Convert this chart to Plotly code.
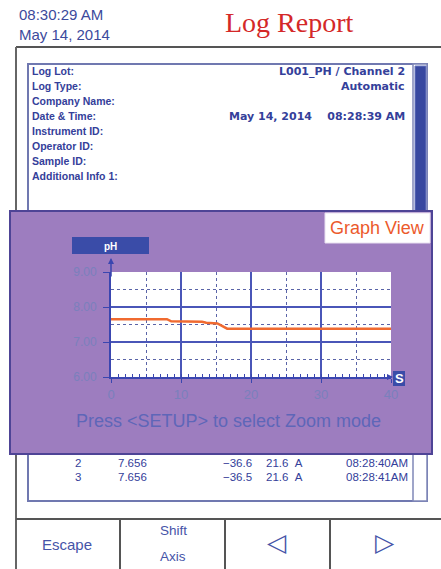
import plotly.graph_objects as go

# ---------------- data ----------------
time_s = [0, 8, 8.6, 13, 13.6, 15.2, 16.6, 40]
ph_values = [7.65, 7.65, 7.59, 7.58, 7.55, 7.53, 7.38, 7.38]

y_tick_vals = [6, 7, 8, 9]
y_tick_text = ["6.00", "7.00", "8.00", "9.00"]
x_tick_vals = [0, 10, 20, 30, 40]
x_tick_text = ["0", "10", "20", "30", "40"]

info_labels = ["Log Lot:", "Log Type:", "Company Name:", "Date & Time:",
               "Instrument ID:", "Operator ID:", "Sample ID:", "Additional Info 1:"]
info_values = ["L001_PH / Channel 2", "Automatic", "", "May 14, 2014&nbsp;&nbsp;&nbsp;&nbsp;08:28:39 AM",
               "", "", "", ""]

rec_no = ["2", "3"]
rec_ph = ["7.656", "7.656"]
rec_mv = ["\u221236.6", "\u221236.5"]
rec_temp = ["21.6&nbsp;&nbsp;A", "21.6&nbsp;&nbsp;A"]
rec_time = ["08:28:40AM", "08:28:41AM"]

# ---------------- geometry helpers ----------------
WIDTH, HEIGHT = 441, 569
L, T, Rr, Bb = 111, 272, 391, 377
PW, PH = Rr - L, Bb - T


def px(x):
    return (x - L) / PW


def py(y):
    return (Bb - y) / PH


BLUE_TXT = "#34409a"
AXIS_BLUE = "#3a46b0"
PURPLE = "#9d7dbf"
FONT = "Liberation Sans, Arial, sans-serif"
DFONT = "DejaVu Sans, sans-serif"

fig = go.Figure()
fig.add_trace(go.Scatter(x=time_s, y=ph_values, mode="lines",
                         line=dict(color="#f06a30", width=2.5),
                         hoverinfo="skip", showlegend=False))
# invisible copy on a second x axis that only provides fine tick marks
fig.add_trace(go.Scatter(x=time_s, y=ph_values, mode="lines", xaxis="x2",
                         line=dict(color="rgba(0,0,0,0)", width=0),
                         hoverinfo="skip", showlegend=False))

shapes = []


def rect(x0, y0, x1, y1, fill=None, line_color=None, lw=0, layer="below"):
    shapes.append(dict(type="rect", xref="paper", yref="paper",
                       x0=px(x0), x1=px(x1), y0=py(y1), y1=py(y0),
                       fillcolor=fill if fill else "rgba(0,0,0,0)",
                       line=dict(color=line_color if line_color else "rgba(0,0,0,0)", width=lw),
                       layer=layer))


def line(x0, y0, x1, y1, color, lw, layer="below", dash="solid"):
    shapes.append(dict(type="line", xref="paper", yref="paper",
                       x0=px(x0), x1=px(x1), y0=py(y0), y1=py(y1),
                       line=dict(color=color, width=lw, dash=dash), layer=layer))


# frame lines
line(16, 47, 441, 47, "#555555", 2)
line(16, 47, 16, 569, "#666666", 2)
line(16, 519, 441, 519, "#555555", 2)
for xs in [120, 225, 330]:
    line(xs, 519, xs, 569, "#555555", 2)

# report panel
rect(28, 64, 427, 501, fill="white", line_color="#7078b0", lw=2)
# scrollbar track + thumb
rect(413, 64, 427, 501, fill="white", line_color="#8088b8", lw=1.5)
rect(415, 66, 426, 230, fill="#3848a0", line_color="#6a78c0", lw=1)

# overlay (graph window)
rect(10, 211, 432, 454, fill=PURPLE, line_color="#4e4496", lw=2)
# Graph View tag
rect(325, 213, 430, 243, fill="white", line_color="#e8e0f0", lw=1)
# pH tag
rect(72, 237, 149, 254, fill="#3a4ca8")
# plot area background
rect(L, T, Rr, Bb, fill="white")
# S box
rect(393, 371, 405, 386, fill="#3a4ca8")

annotations = []


def text(x, y, s, size, color, xanchor="left", family=FONT, yanchor="middle"):
    annotations.append(dict(xref="paper", yref="paper", x=px(x), y=py(y), text=s,
                            showarrow=False, xanchor=xanchor, yanchor=yanchor,
                            font=dict(size=size, color=color, family=family)))


# header
annotations.append(dict(xref="paper", yref="paper", x=px(17), y=py(4),
                        text="08:30:29 AM<br>May 14, 2014", showarrow=False,
                        xanchor="left", yanchor="top", align="left",
                        font=dict(size=15, color="#3c4a9c", family=FONT)))
text(289, 22, "Log Report", 28, "#d42828", xanchor="center",
     family="Liberation Serif, DejaVu Serif, serif")

# report lines
for i, (lab, val) in enumerate(zip(info_labels, info_values)):
    yy = 71 + i * 15
    text(30, yy, "<b>" + lab + "</b>", 10.5, BLUE_TXT)
    if val:
        text(407, yy, "<b>" + val + "</b>", 11, BLUE_TXT, xanchor="right", family=DFONT)

# table rows
for i in range(len(rec_no)):
    yy = 463 + i * 14
    text(78, yy, rec_no[i], 11.5, BLUE_TXT, xanchor="center")
    text(116, yy, rec_ph[i], 11.5, BLUE_TXT)
    text(254, yy, rec_mv[i], 11.5, BLUE_TXT, xanchor="right")
    text(264, yy, rec_temp[i], 11.5, BLUE_TXT)
    text(410, yy, rec_time[i], 11.5, BLUE_TXT, xanchor="right")

# overlay texts
text(377, 228, "Graph View", 18, "#ec5a2c", xanchor="center")
text(110, 246, "<b>pH</b>", 10, "white", xanchor="center")
text(399, 378, "<b>S</b>", 13, "white", xanchor="center")
text(228, 421, "Press &lt;SETUP&gt; to select Zoom mode", 18, "#5e66b8", xanchor="center")

# buttons
BTN = "#4654a8"
text(67, 544, "Escape", 15, BTN, xanchor="center")
text(173, 530, "Shift", 13.5, BTN, xanchor="center")
text(173, 556, "Axis", 13.5, BTN, xanchor="center")
text(277, 542, "\u25C1", 25, BTN, xanchor="center")
text(385, 542, "\u25B7", 25, BTN, xanchor="center")

# axis arrows
annotations.append(dict(xref="x", yref="paper", x=0, y=py(258), ax=0, ay=20,
                        showarrow=True, arrowhead=2, arrowsize=0.8, arrowwidth=1.5,
                        arrowcolor=AXIS_BLUE, text=""))
annotations.append(dict(xref="paper", yref="y", x=px(393), y=6, ax=-6, ay=0,
                        showarrow=True, arrowhead=2, arrowsize=0.8, arrowwidth=1.5,
                        arrowcolor=AXIS_BLUE, text=""))

fig.update_layout(
    width=WIDTH, height=HEIGHT,
    margin=dict(l=L, r=WIDTH - Rr, t=T, b=HEIGHT - Bb),
    paper_bgcolor="white", plot_bgcolor="rgba(0,0,0,0)",
    showlegend=False,
    shapes=shapes, annotations=annotations,
    xaxis=dict(range=[0, 40], tickvals=x_tick_vals, ticktext=x_tick_text,
               showgrid=True, gridcolor="#4a56b8", gridwidth=2,
               showline=True, linecolor=AXIS_BLUE, linewidth=2, mirror=False,
               ticks="outside", ticklen=4, tickcolor=AXIS_BLUE,
               tickfont=dict(size=13, color="#7a80bc", family=FONT),
               minor=dict(dtick=5, showgrid=True, gridcolor="#5a64a8",
                          griddash="dot", gridwidth=1, ticks=""),
               zeroline=False, fixedrange=True),
    xaxis2=dict(range=[0, 40], overlaying="x", anchor="y", side="bottom",
                dtick=1, ticks="inside", ticklen=3, tickcolor=AXIS_BLUE,
                showticklabels=False, showgrid=False, showline=False,
                zeroline=False, fixedrange=True),
    yaxis=dict(range=[6, 9], tickvals=y_tick_vals, ticktext=y_tick_text,
               showgrid=True, gridcolor="#4a56b8", gridwidth=2,
               showline=True, linecolor=AXIS_BLUE, linewidth=2,
               ticks="outside", ticklen=6, tickcolor=AXIS_BLUE,
               ticklabelstandoff=4,
               tickfont=dict(size=12, color="#7a80bc", family=FONT),
               minor=dict(dtick=0.5, showgrid=True, gridcolor="#5a64a8",
                          griddash="dot", gridwidth=1),
               zeroline=False, fixedrange=True),
)

fig.write_html("out.html", config={"displayModeBar": False},
               post_script="document.body.style.margin='0';")
